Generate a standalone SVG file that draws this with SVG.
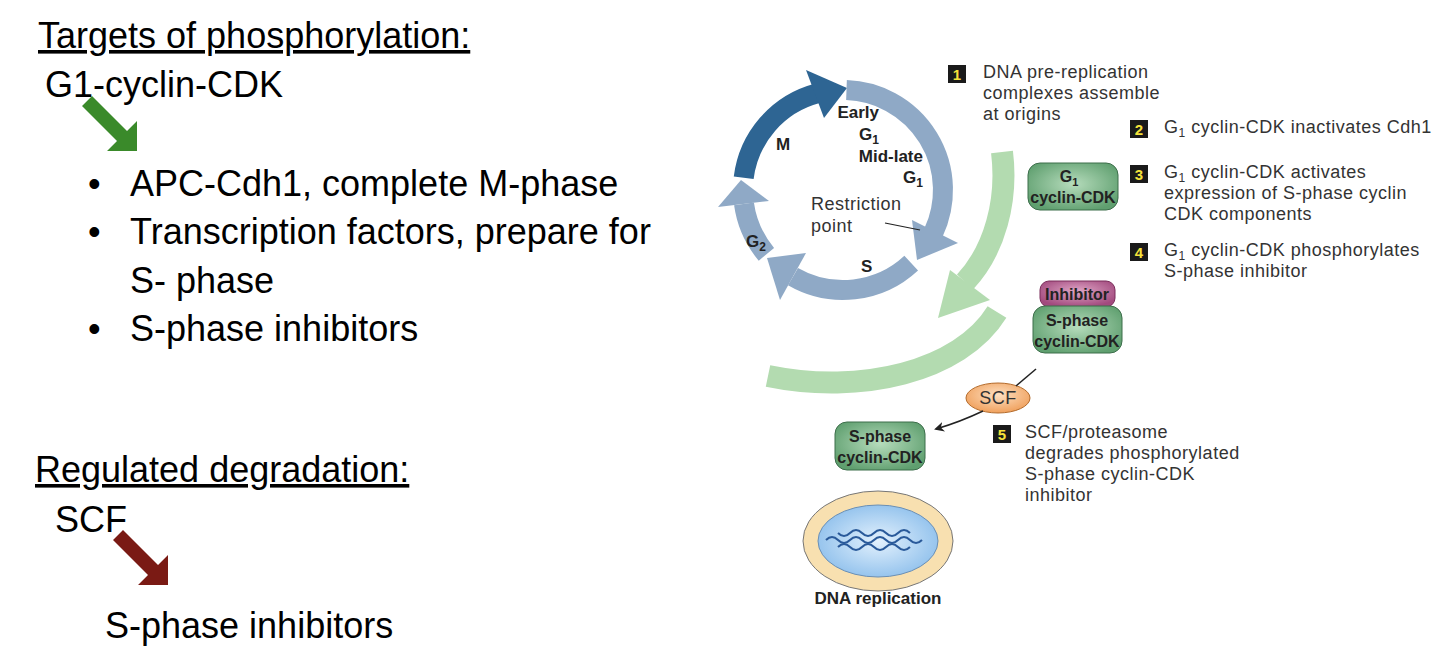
<svg xmlns="http://www.w3.org/2000/svg" width="1450" height="672" viewBox="0 0 1450 672">
<defs>
<radialGradient id="gg" cx="50%" cy="45%" r="60%"><stop offset="0" stop-color="#b6dcbc"/><stop offset="1" stop-color="#5f9f6f"/></radialGradient>
<radialGradient id="pg" cx="50%" cy="40%" r="60%"><stop offset="0" stop-color="#e0a6c6"/><stop offset="1" stop-color="#a24a7e"/></radialGradient>
<radialGradient id="og" cx="50%" cy="40%" r="60%"><stop offset="0" stop-color="#fde0c2"/><stop offset="1" stop-color="#f0a05c"/></radialGradient>
<radialGradient id="bg" cx="50%" cy="50%" r="55%"><stop offset="0" stop-color="#e3f1fd"/><stop offset="1" stop-color="#8fc0ec"/></radialGradient>
<marker id="ah" markerWidth="10" markerHeight="10" refX="8" refY="5" orient="auto" markerUnits="userSpaceOnUse"><path d="M0,0 L10,5 L0,10 L3,5 Z" fill="#222"/></marker>
<style>
.big{font-family:"Liberation Sans",Arial,sans-serif;font-size:36px;fill:#000}
.t{font-family:"Liberation Sans",Arial,sans-serif;font-size:18px;letter-spacing:0.5px;fill:#333}
.b{font-family:"Liberation Sans",Arial,sans-serif;font-size:17px;font-weight:bold;fill:#222}
.nb{font-family:"Liberation Sans",Arial,sans-serif;font-size:16px;font-weight:bold;fill:#222}
.n{font-family:"Liberation Sans",Arial,sans-serif;font-size:15px;font-weight:bold;fill:#f5e23a}
.box{stroke:#3d6e4b;stroke-width:1}
.num{fill:#1a1a1a}
</style>
</defs>
<rect width="1450" height="672" fill="#fff"/>

<g id="left-text">
<text class="big" x="38" y="48" text-decoration="underline">Targets of phosphorylation:</text>
<text class="big" x="45" y="97">G1-cyclin-CDK</text>
<text class="big" x="88" y="196">•</text><text class="big" x="130" y="196">APC-Cdh1, complete M-phase</text>
<text class="big" x="88" y="244">•</text><text class="big" x="130" y="244">Transcription factors, prepare for</text>
<text class="big" x="130" y="293">S- phase</text>
<text class="big" x="88" y="341">•</text><text class="big" x="130" y="341">S-phase inhibitors</text>
<text class="big" x="35" y="482" text-decoration="underline">Regulated degradation:</text>
<text class="big" x="55" y="532">SCF</text>
<text class="big" x="105" y="638">S-phase inhibitors</text>
</g>
<g id="green-arrow"><polygon points="82,106 92,96 127,131 137,121 137,151 107,151 117,141" fill="#3a8a2a"/></g>
<g id="red-arrow"><polygon points="113,540 123,530 158,565 168,555 168,585 138,585 148,575" fill="#7a1a14"/></g>

<g id="cycle">
<path d="M743.7,177.8 A100,100 0 0 1 817.1,93.4" fill="none" stroke="#2e6593" stroke-width="20"/>
<polygon points="824,118 806,70 847,88" fill="#2e6593"/>
<path d="M846.5,90.1 A100,100 0 0 1 933.6,232.3" fill="none" stroke="#8fa9c6" stroke-width="20"/>
<polygon points="912,220 958,243 917,260" fill="#8fa9c6"/>
<path d="M911.2,263.1 A100,100 0 0 1 793,276.6" fill="none" stroke="#8fa9c6" stroke-width="20"/>
<polygon points="806,253 780,300 767,258" fill="#8fa9c6"/>
<path d="M766.4,254.3 A100,100 0 0 1 744,203.9" fill="none" stroke="#8fa9c6" stroke-width="20"/>
<polygon points="769,201 718,207 741,180" fill="#8fa9c6"/>
<text class="b" x="776" y="150">M</text>
<text class="b" x="879" y="118" text-anchor="end">Early</text>
<text class="b" x="879" y="140" text-anchor="end">G<tspan font-size="12" dy="4">1</tspan></text>
<text class="b" x="923" y="162" text-anchor="end">Mid-late</text>
<text class="b" x="923" y="183" text-anchor="end">G<tspan font-size="12" dy="4">1</tspan></text>
<text class="t" x="811" y="210" font-size="17" letter-spacing="0.3">Restriction</text>
<text class="t" x="811" y="232" font-size="17" letter-spacing="0.3">point</text>
<line x1="885" y1="223" x2="920" y2="230" stroke="#222" stroke-width="1.2"/>
<text class="b" x="746" y="247">G<tspan font-size="12" dy="4">2</tspan></text>
<text class="b" x="861" y="272">S</text>
</g>

<g id="green-cycle">
<path d="M1002,152 C1008,200 995,250 965,282" fill="none" stroke="#b3dbb0" stroke-width="22"/>
<polygon points="950,270 990,300 938,318" fill="#b3dbb0"/>
<path d="M997,312 C960,372 860,395 768,376" fill="none" stroke="#b3dbb0" stroke-width="22"/>
</g>

<g id="step1"><rect class="num" x="948" y="65" width="18" height="18"/><text class="n" x="957" y="80" text-anchor="middle">1</text>
<text class="t" x="983" y="78">DNA pre-replication</text><text class="t" x="983" y="99">complexes assemble</text><text class="t" x="983" y="120">at origins</text></g>
<g id="step2"><rect class="num" x="1130" y="120" width="18" height="18"/><text class="n" x="1139" y="135" text-anchor="middle">2</text>
<text class="t" x="1164" y="133">G<tspan font-size="12" dy="4">1</tspan><tspan dy="-4"> cyclin-CDK inactivates Cdh1</tspan></text></g>
<g id="step3"><rect class="num" x="1130" y="165" width="18" height="18"/><text class="n" x="1139" y="180" text-anchor="middle">3</text>
<text class="t" x="1164" y="178">G<tspan font-size="12" dy="4">1</tspan><tspan dy="-4"> cyclin-CDK activates</tspan></text><text class="t" x="1164" y="199">expression of S-phase cyclin</text><text class="t" x="1164" y="220">CDK components</text></g>
<g id="step4"><rect class="num" x="1130" y="243" width="18" height="18"/><text class="n" x="1139" y="258" text-anchor="middle">4</text>
<text class="t" x="1164" y="256">G<tspan font-size="12" dy="4">1</tspan><tspan dy="-4"> cyclin-CDK phosphorylates</tspan></text><text class="t" x="1164" y="277">S-phase inhibitor</text></g>
<g id="step5"><rect class="num" x="993" y="425" width="18" height="18"/><text class="n" x="1002" y="440" text-anchor="middle">5</text>
<text class="t" x="1025" y="438">SCF/proteasome</text><text class="t" x="1025" y="459">degrades phosphorylated</text><text class="t" x="1025" y="480">S-phase cyclin-CDK</text><text class="t" x="1025" y="501">inhibitor</text></g>

<g id="g1-cdk"><rect class="box" x="1028" y="163" width="90" height="47" rx="12" fill="url(#gg)"/>
<text class="nb" x="1069" y="182" text-anchor="middle">G<tspan font-size="11" dy="4">1</tspan></text>
<text class="nb" x="1073" y="203" text-anchor="middle">cyclin-CDK</text></g>
<g id="inhibitor"><rect x="1040" y="281" width="75" height="26" rx="9" fill="url(#pg)" stroke="#7a2c5a"/>
<text class="nb" x="1077" y="300" text-anchor="middle" font-size="15">Inhibitor</text></g>
<g id="sphase-cdk-1"><rect class="box" x="1033" y="306" width="89" height="47" rx="12" fill="url(#gg)"/>
<text class="nb" x="1077" y="326" text-anchor="middle">S-phase</text>
<text class="nb" x="1077" y="347" text-anchor="middle">cyclin-CDK</text></g>
<g id="scf"><ellipse cx="998" cy="398" rx="32" ry="15" fill="url(#og)" stroke="#b36a2a"/>
<text class="t" x="998" y="404" text-anchor="middle" font-size="17" letter-spacing="0" fill="#222">SCF</text></g>
<g id="sphase-cdk-2"><rect class="box" x="835" y="422" width="90" height="48" rx="12" fill="url(#gg)"/>
<text class="nb" x="880" y="442" text-anchor="middle">S-phase</text>
<text class="nb" x="880" y="463" text-anchor="middle">cyclin-CDK</text></g>
<g id="dna"><ellipse cx="878" cy="541" rx="75" ry="50" fill="#f8e0b0" stroke="#777"/>
<ellipse cx="878" cy="541" rx="60" ry="36" fill="url(#bg)" stroke="#6a8fb5"/>
<path d="M826,540 q6,-6 12,0 t12,0 t12,0 t12,0 t12,0 t12,0 t12,0 t12,0" fill="none" stroke="#2a5a9a" stroke-width="2"/>
<path d="M838,533 q6,6 12,0 t12,0 t12,0 t12,0 t12,0 t12,0" fill="none" stroke="#2a5a9a" stroke-width="2"/>
<path d="M838,547 q6,-6 12,0 t12,0 t12,0 t12,0 t12,0 t12,0" fill="none" stroke="#2a5a9a" stroke-width="2"/>
<text class="b" x="878" y="604" text-anchor="middle" font-size="19">DNA replication</text></g>

<g id="connectors">
<line x1="1036" y1="369" x2="1016" y2="386" stroke="#222" stroke-width="1.5"/>
<path d="M983,411 Q960,422 936,429" fill="none" stroke="#222" stroke-width="1.5" marker-end="url(#ah)"/>
</g>
</svg>
